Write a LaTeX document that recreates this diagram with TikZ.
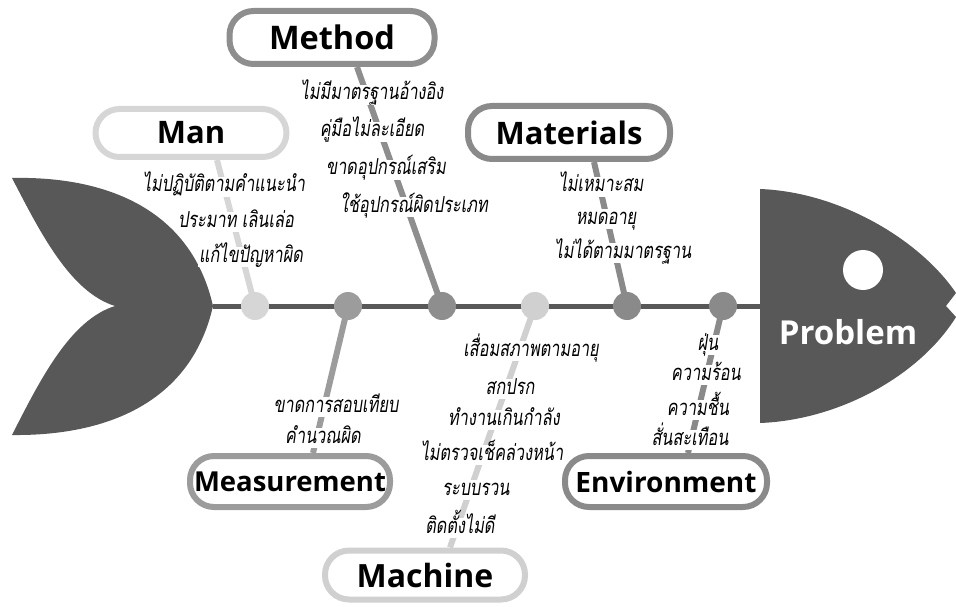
\documentclass[tikz,border=0pt]{standalone}
\usepackage{fontspec}
\usetikzlibrary{backgrounds}
\setmainfont{Open Sans}
\newfontfamily\thai[Script=Thai,FakeSlant=0.15,FakeStretch=0.74]{Loma}
\definecolor{darkc}{RGB}{88,88,88}
\definecolor{manc}{RGB}{214,214,214}
\definecolor{methc}{RGB}{142,142,142}
\definecolor{matc}{RGB}{138,138,138}
\definecolor{measc}{RGB}{156,156,156}
\definecolor{machc}{RGB}{208,208,208}
\definecolor{envc}{RGB}{138,138,138}
\tikzset{
  catbox/.style={draw=#1, line width=6, fill=white, rounded corners=24, inner sep=0},
  fs/.style={font=\bfseries\fontsize{#1}{#1}\selectfont},
  bone/.style={draw=#1, line width=6},
  joint/.style={circle, fill=#1, minimum size=28, inner sep=0},
  cause/.style={fill=white, inner sep=1, text height=14, text depth=4,
     font=\thai\fontsize{22}{23}\selectfont},
}
\begin{document}
\begin{tikzpicture}[x=1pt,y=-1pt]
\useasboundingbox (0,0) rectangle (956,607);
% tail
\fill[darkc] (12,178) .. controls (100,176) and (190,205) .. (213,306)
  .. controls (190,407) and (100,436) .. (12,435)
  .. controls (40,380) and (70,320) .. (115,306)
  .. controls (70,292) and (40,232) .. cycle;
% head
\fill[darkc] (760,189) .. controls (840,192) and (920,240) .. (956,293)
  -- (946,306) -- (956,317) .. controls (920,375) and (840,420) .. (760,423) -- cycle;
\fill[white] (863,270) circle (20);
\node[white, fs=33] (problem) at (848,332) {Problem};
% spine
\coordinate (tailtip) at (213,306);
\coordinate (headback) at (761,306);
\draw[darkc, line width=5] (tailtip) -- (headback);
% boxes
\node[catbox=manc, fs=31, minimum width=191, minimum height=48] (manbox) at (191,133) {Man};
\node[catbox=methc, fs=32.5, minimum width=205, minimum height=53] (methbox) at (332,37.5) {Method};
\node[catbox=matc, fs=31, minimum width=202, minimum height=53] (matbox) at (569,132.5) {Materials};
\node[catbox=measc, fs=27.5, minimum width=200, minimum height=51] (measbox) at (290,481.5) {Measurement};
\node[catbox=machc, fs=32, minimum width=200, minimum height=49] (machbox) at (425,575) {Machine};
\node[catbox=envc, fs=28, minimum width=202, minimum height=51] (envbox) at (666,481.5) {Environment};
% joint circles
\node[joint=manc] (cman) at (255,306) {};
\node[joint=measc] (cmeas) at (348,306) {};
\node[joint=methc] (cmeth) at (442,306) {};
\node[joint=machc] (cmach) at (535,306) {};
\node[joint=matc] (cmat) at (627,306) {};
\node[joint=envc] (cenv) at (723,306) {};
% bones
\begin{pgfonlayer}{background}
\draw[bone=manc] (cman.center) -- ([xshift=26]manbox.south);
\draw[bone=methc] (cmeth.center) -- ([xshift=25]methbox.south);
\draw[bone=matc] (cmat.center) -- ([xshift=25]matbox.south);
\draw[bone=measc] (cmeas.center) -- ([xshift=23]measbox.north);
\draw[bone=machc] (cmach.center) -- ([xshift=25]machbox.north);
\draw[bone=envc] (cenv.center) -- ([xshift=22]envbox.north);
\end{pgfonlayer}
% causes: Man
\node[cause] (man1) at (224,187) {ไม่ปฏิบัติตามคำแนะนำ};
\node[cause] (man2) at (236,222) {ประมาท เลินเล่อ};
\node[cause] (man3) at (251,257) {แก้ไขปัญหาผิด};
% Method
\node[cause] (meth1) at (372,95) {ไม่มีมาตรฐานอ้างอิง};
\node[cause] (meth2) at (372,132) {คู่มือไม่ละเอียด};
\node[cause] (meth3) at (386,170) {ขาดอุปกรณ์เสริม};
\node[cause] (meth4) at (414,207) {ใช้อุปกรณ์ผิดประเภท};
% Materials
\node[cause] (mat1) at (601,187) {ไม่เหมาะสม};
\node[cause] (mat2) at (606,219) {หมดอายุ};
\node[cause] (mat3) at (623,253) {ไม่ได้ตามมาตรฐาน};
% Measurement
\node[cause] (meas1) at (336,407) {ขาดการสอบเทียบ};
\node[cause] (meas2) at (323,438) {คำนวณผิด};
% Machine
\node[cause] (mach1) at (531,351) {เสื่อมสภาพตามอายุ};
\node[cause] (mach2) at (510,389) {สกปรก};
\node[cause] (mach3) at (504,420) {ทำงานเกินกำลัง};
\node[cause] (mach4) at (492,455) {ไม่ตรวจเช็คล่วงหน้า};
\node[cause] (mach5) at (476,490) {ระบบรวน};
\node[cause] (mach6) at (460,528) {ติดตั้งไม่ดี};
% Environment
\node[cause] (env1) at (708,345) {ฝุ่น};
\node[cause] (env2) at (706,375) {ความร้อน};
\node[cause] (env3) at (698,410) {ความชื้น};
\node[cause] (env4) at (690,440) {สั่นสะเทือน};
\end{tikzpicture}
\end{document}
